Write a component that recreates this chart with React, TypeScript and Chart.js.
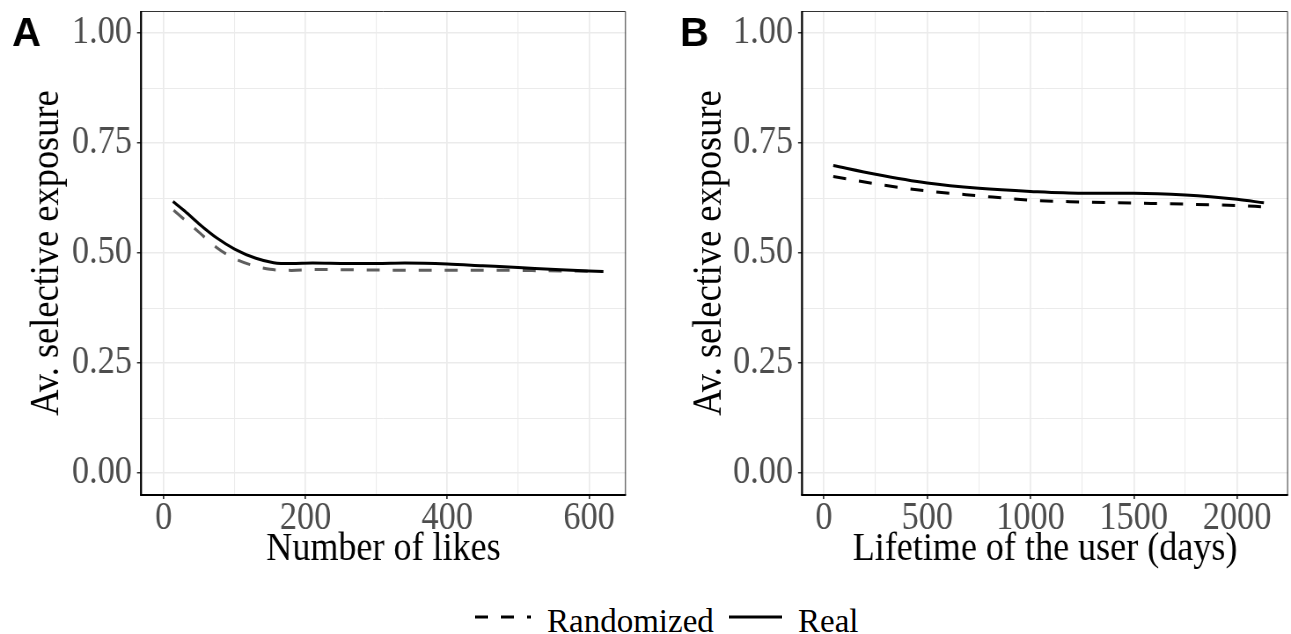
import React, { useEffect, useRef } from 'react';
import { Chart, registerables } from 'chart.js';

Chart.register(...registerables);

// ---- data ----
const yMajorTicks = [0, 0.25, 0.5, 0.75, 1];
const likesMajorTicks = [0, 200, 400, 600];
const daysMajorTicks = [0, 500, 1000, 1500, 2000];

const likesRealX = [13, 30, 50, 75, 100, 130, 155, 180, 210, 260, 300, 340, 400, 450, 500, 560, 620];
const likesRealY = [0.617, 0.595, 0.566, 0.534, 0.509, 0.488, 0.478, 0.476, 0.477, 0.476, 0.476, 0.477, 0.475, 0.471, 0.467, 0.462, 0.458];
const likesRandX = [14, 30, 50, 75, 100, 125, 150, 180, 215, 260, 320, 400, 460, 520, 580, 620];
const likesRandY = [0.597, 0.575, 0.547, 0.512, 0.487, 0.472, 0.463, 0.4605, 0.4625, 0.462, 0.461, 0.461, 0.461, 0.46, 0.459, 0.458];

const daysRealX = [45, 250, 500, 750, 1000, 1250, 1500, 1750, 2000, 2130];
const daysRealY = [0.699, 0.679, 0.659, 0.647, 0.64, 0.636, 0.636, 0.632, 0.622, 0.614];
const daysRandX = [45, 250, 500, 750, 1000, 1250, 1500, 1750, 2000, 2130];
const daysRandY = [0.674, 0.657, 0.641, 0.63, 0.62, 0.616, 0.6135, 0.611, 0.608, 0.605];

const seriesLabels = ['Randomized', 'Real'];
const yTitle = 'Av. selective exposure';
const xTitles = ['Number of likes', 'Lifetime of the user (days)'];
const panelLabels = ['A', 'B'];

// ---- styling ----
const SERIF = '"Liberation Serif", "Times New Roman", serif';
const SANS = '"Liberation Sans", Arial, sans-serif';
const CANVAS_H = 590;
// the reference typography is horizontally condensed: the canvases are drawn wider and squeezed by CSS
const SX = 0.88;
const ix = (css: number) => css / SX;

function withMinor(majors: number[]): number[] {
  const out: number[] = [];
  majors.forEach((m, i) => {
    out.push(m);
    if (i < majors.length - 1) out.push((m + majors[i + 1]) / 2);
  });
  return out;
}

const hasValue = (arr: number[], v: number) => arr.some((m) => Math.abs(m - v) < 1e-9);

interface PanelSpec {
  width: number;
  area: { left: number; right: number; top: number; bottom: number };
  xMin: number;
  xMax: number;
  xMajor: number[];
  xTitle: string;
  label: string;
  labelX: number;
  yTitleBaseline: number;
  randColor: string;
  realX: number[];
  realY: number[];
  randX: number[];
  randY: number[];
}

function makeChart(canvas: HTMLCanvasElement, spec: PanelSpec) {
  const { area } = spec;
  const wInt = Math.round(ix(spec.width));
  const xAll = withMinor(spec.xMajor);
  const yAll = withMinor(yMajorTicks);

  const framePlugin = {
    id: 'frame',
    afterDraw(chart: any) {
      const { ctx, chartArea: a } = chart;
      ctx.save();
      // panel border
      ctx.strokeStyle = '#333333';
      ctx.lineWidth = 1;
      ctx.beginPath();
      ctx.moveTo(a.left, a.top + 0.5);
      ctx.lineTo(a.right - ix(0.5), a.top + 0.5);
      ctx.lineTo(a.right - ix(0.5), a.bottom);
      ctx.lineWidth = 1;
      ctx.stroke();
      // axis lines (left, bottom)
      ctx.strokeStyle = '#000000';
      ctx.beginPath();
      ctx.lineWidth = ix(2);
      ctx.moveTo(a.left, a.top);
      ctx.lineTo(a.left, a.bottom);
      ctx.stroke();
      ctx.beginPath();
      ctx.lineWidth = 2;
      ctx.moveTo(a.left - ix(1), a.bottom);
      ctx.lineTo(a.right, a.bottom);
      ctx.stroke();
      ctx.restore();

      // panel tag (undo the horizontal squeeze)
      ctx.save();
      ctx.setTransform(1 / SX, 0, 0, 1, ix(spec.labelX), 46);
      ctx.fillStyle = '#000000';
      ctx.font = `bold 40px ${SANS}`;
      ctx.textBaseline = 'alphabetic';
      ctx.textAlign = 'left';
      ctx.fillText(spec.label, 0, 0);
      ctx.restore();

      // rotated y-axis title (condensed along its length)
      ctx.save();
      const yc = (a.top + a.bottom) / 2;
      ctx.setTransform(0, -0.91, 1 / SX, 0, ix(spec.yTitleBaseline), yc);
      ctx.fillStyle = '#000000';
      ctx.font = `40px ${SERIF}`;
      ctx.textBaseline = 'alphabetic';
      ctx.textAlign = 'center';
      ctx.fillText(yTitle, 0, 0);
      ctx.restore();
    },
  };

  const gridFor = (majors: number[], widthScale: number, tickLength: number) => ({
    color: '#EBEBEB',
    lineWidth: (c: any) => (c.tick && hasValue(majors, c.tick.value) ? 1.5 : 1) * widthScale,
    tickColor: (c: any) => (c.tick && hasValue(majors, c.tick.value) ? '#333333' : 'rgba(0,0,0,0)'),
    tickLength,
    tickWidth: 1.5 * widthScale,
    drawTicks: true,
    drawOnChartArea: true,
  });

  return new Chart(canvas, {
    type: 'line',
    data: {
      datasets: [
        {
          label: seriesLabels[1],
          data: spec.realX.map((x, i) => ({ x, y: spec.realY[i] })),
          borderColor: '#000000',
          borderWidth: 3,
          pointRadius: 0,
          cubicInterpolationMode: 'monotone',
          fill: false,
        },
        {
          label: seriesLabels[0],
          data: spec.randX.map((x, i) => ({ x, y: spec.randY[i] })),
          borderColor: spec.randColor,
          borderDash: [ix(13), ix(13)],
          borderWidth: 3,
          pointRadius: 0,
          cubicInterpolationMode: 'monotone',
          fill: false,
        },
      ],
    },
    options: {
      animation: false,
      responsive: false,
      maintainAspectRatio: false,
      events: [],
      layout: {
        padding: { left: 0, top: area.top, right: wInt - ix(area.right), bottom: 0 },
      },
      plugins: { legend: { display: false }, tooltip: { enabled: false } },
      scales: {
        x: {
          type: 'linear',
          min: spec.xMin,
          max: spec.xMax,
          afterBuildTicks: (s: any) => {
            s.ticks = xAll.map((v) => ({ value: v }));
          },
          afterFit: (s: any) => {
            s.height = CANVAS_H - area.bottom;
            s.paddingLeft = 0;
            s.paddingRight = 0;
          },
          ticks: {
            autoSkip: false,
            maxRotation: 0,
            minRotation: 0,
            padding: 0,
            color: '#4D4D4D',
            font: { family: SERIF, size: 39, lineHeight: 1 },
            callback: (v: any) => (hasValue(spec.xMajor, Number(v)) ? String(v) : ''),
          },
          grid: gridFor(spec.xMajor, 1 / SX, 4),
          border: { display: false },
          title: {
            display: true,
            text: spec.xTitle,
            color: '#000000',
            font: { family: SERIF, size: 41, lineHeight: 1 },
            padding: { top: 0, bottom: 20 },
          },
        },
        y: {
          type: 'linear',
          min: -0.05,
          max: 1.05,
          afterBuildTicks: (s: any) => {
            s.ticks = yAll.map((v) => ({ value: v }));
          },
          afterFit: (s: any) => {
            s.width = ix(area.left);
            s.paddingTop = 0;
            s.paddingBottom = 0;
          },
          ticks: {
            autoSkip: false,
            padding: ix(5),
            color: '#4D4D4D',
            font: { family: SERIF, size: 39, lineHeight: 1 },
            callback: (v: any) => (hasValue(yMajorTicks, Number(v)) ? Number(v).toFixed(2) : ''),
          },
          grid: gridFor(yMajorTicks, 1, ix(4)),
          border: { display: false },
          title: { display: false },
        },
      },
    },
    plugins: [framePlugin],
  } as any);
}

const panelA: PanelSpec = {
  width: 645,
  area: { left: 141, right: 626, top: 11, bottom: 495 },
  xMin: -32,
  xMax: 652,
  xMajor: likesMajorTicks,
  xTitle: xTitles[0],
  label: panelLabels[0],
  labelX: 12,
  yTitleBaseline: 58,
  randColor: '#5E5E5E',
  realX: likesRealX,
  realY: likesRealY,
  randX: likesRandX,
  randY: likesRandY,
};

const panelB: PanelSpec = {
  width: 646,
  area: { left: 157, right: 643, top: 11, bottom: 495 },
  xMin: -106,
  xMax: 2247,
  xMajor: daysMajorTicks,
  xTitle: xTitles[1],
  label: panelLabels[1],
  labelX: 35,
  yTitleBaseline: 76,
  randColor: '#000000',
  realX: daysRealX,
  realY: daysRealY,
  randX: daysRandX,
  randY: daysRandY,
};

function Panel({ spec, left }: { spec: PanelSpec; left: number }) {
  const ref = useRef<HTMLCanvasElement>(null);
  useEffect(() => {
    if (!ref.current) return;
    const chart = makeChart(ref.current, spec);
    return () => chart.destroy();
  }, [spec]);
  return (
    <canvas
      ref={ref}
      width={Math.round(ix(spec.width))}
      height={CANVAS_H}
      style={{ position: 'absolute', left, top: 0, width: spec.width, height: CANVAS_H }}
    />
  );
}

export default function App() {
  return (
    <div
      style={{
        position: 'fixed',
        left: 0,
        top: 0,
        width: 1291,
        height: 634,
        background: '#ffffff',
        overflow: 'hidden',
      }}
    >
      <Panel spec={panelA} left={0} />
      <Panel spec={panelB} left={645} />
      <svg width={1291} height={44} style={{ position: 'absolute', left: 0, top: 590 }}>
        <line x1={475} y1={27} x2={531} y2={27} stroke="#000" strokeWidth={3} strokeDasharray="13 13" />
        <text x={547} y={41.5} fontFamily={SERIF} fontSize={33} fill="#000">
          {seriesLabels[0]}
        </text>
        <line x1={729} y1={27} x2={782} y2={27} stroke="#000" strokeWidth={3} />
        <text x={798} y={41.5} fontFamily={SERIF} fontSize={33} fill="#000">
          {seriesLabels[1]}
        </text>
      </svg>
    </div>
  );
}
